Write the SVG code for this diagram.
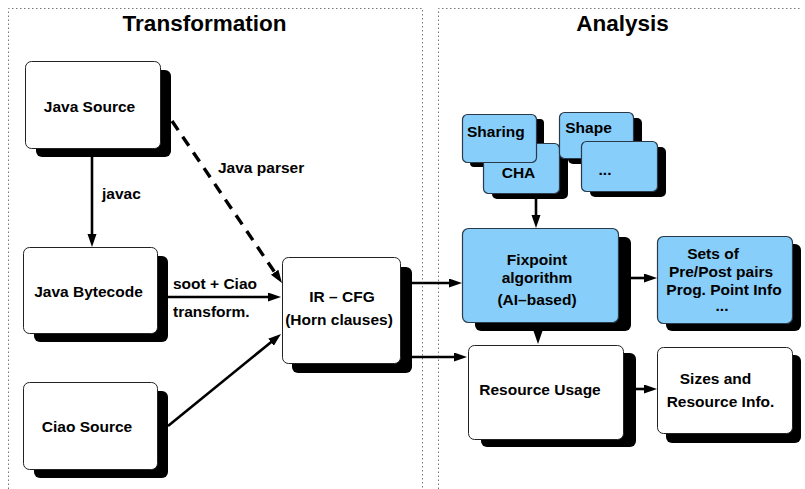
<svg xmlns="http://www.w3.org/2000/svg" width="805" height="489" viewBox="0 0 805 489">
<defs>
<style>
.frame{fill:none;stroke:#777;stroke-width:1;stroke-dasharray:1.5 2.5}
.title{font-family:"Liberation Sans",Arial,sans-serif;font-weight:bold;font-size:22.5px;fill:#000;text-anchor:middle}
.lbl{font-family:"Liberation Sans",Arial,sans-serif;font-weight:bold;font-size:15.5px;fill:#000}
.mid{text-anchor:middle}
.sh{fill:#000}
.wbox{fill:#fff;stroke:#222;stroke-width:1}
.bbox{fill:#87cefa;stroke:#2b3a4a;stroke-width:1.2}
.conn{fill:none;stroke:#000;stroke-width:2.6}
.dash{stroke-dasharray:11 8;stroke-width:3.4}
</style>
<marker id="ah" markerUnits="userSpaceOnUse" markerWidth="14" markerHeight="10" refX="2" refY="4.5" orient="auto">
<path d="M0,0 L13,4.5 L0,9 z" fill="#000"/>
</marker>
</defs>

<g id="frames">
<path class="frame" d="M8.5,489 V8.5 H422.5 V489"/>
<path class="frame" d="M438.5,489 V8.5 H802"/>
<text class="title" x="204.5" y="31">Transformation</text>
<text class="title" x="622.5" y="31">Analysis</text>
</g>

<g id="connectors">
<line class="conn" x1="92" y1="157" x2="92" y2="236" marker-end="url(#ah)"/>
<line class="conn dash" x1="172" y1="121" x2="275.8" y2="273.9" marker-end="url(#ah)"/>
<line class="conn" x1="168" y1="297" x2="270" y2="297" marker-end="url(#ah)"/>
<line class="conn" x1="168" y1="426" x2="272.5" y2="340.9" marker-end="url(#ah)"/>
<line class="conn" x1="412" y1="283" x2="451" y2="283" marker-end="url(#ah)"/>
<line class="conn" x1="412" y1="357" x2="456" y2="357" marker-end="url(#ah)"/>
<line class="conn" x1="536" y1="199" x2="536" y2="217" marker-end="url(#ah)"/>
<line class="conn" x1="631" y1="278" x2="646" y2="278" marker-end="url(#ah)"/>
<line class="conn" x1="538" y1="320" x2="538" y2="333" marker-end="url(#ah)"/>
<line class="conn" x1="636" y1="389" x2="646" y2="389" marker-end="url(#ah)"/>
<text class="lbl" x="102" y="199">javac</text>
<text class="lbl" x="218" y="173">Java parser</text>
<text class="lbl" x="173" y="289">soot + Ciao</text>
<text class="lbl" x="173" y="317">transform.</text>
</g>

<g id="java-source">
<rect class="sh" x="36" y="70" width="135" height="87" rx="6"/>
<rect class="wbox" x="25.5" y="61.5" width="135" height="87" rx="6"/>
<text class="lbl mid" x="89.5" y="112">Java Source</text>
</g>

<g id="java-bytecode">
<rect class="sh" x="34" y="256" width="134" height="86" rx="6"/>
<rect class="wbox" x="23.5" y="247.5" width="134" height="86" rx="6"/>
<text class="lbl mid" x="88.5" y="297">Java Bytecode</text>
</g>

<g id="ciao-source">
<rect class="sh" x="34" y="391" width="134" height="87" rx="6"/>
<rect class="wbox" x="23.5" y="382.5" width="134" height="87" rx="6"/>
<text class="lbl mid" x="87" y="432">Ciao Source</text>
</g>

<g id="ir-cfg">
<rect class="sh" x="292" y="267" width="120" height="106" rx="6"/>
<rect class="wbox" x="282.5" y="257.5" width="118" height="106" rx="6"/>
<text class="lbl mid" x="342" y="302">IR – CFG</text>
<text class="lbl mid" x="339" y="325">(Horn clauses)</text>
</g>

<g id="cha">
<rect class="sh" x="492" y="149" width="76" height="50" rx="5"/>
<rect class="bbox" x="483.5" y="143.5" width="76" height="50" rx="5"/>
<text class="lbl mid" x="518.5" y="178">CHA</text>
</g>

<g id="sharing">
<path class="sh" d="M536,119 h4 a4,4 0 0 1 4,4 v20 h-8 z M470,162 h13 v5 h-9 a4,4 0 0 1 -4,-4 z"/>
<rect class="bbox" x="462.5" y="114.5" width="74" height="48" rx="5"/>
<text class="lbl" x="467" y="137">Sharing</text>
</g>

<g id="shape">
<rect class="sh" x="568" y="118" width="74" height="46" rx="5"/>
<rect class="bbox" x="559.5" y="112.5" width="74" height="46" rx="5"/>
<text class="lbl mid" x="588.5" y="133">Shape</text>
</g>

<g id="more-domains">
<rect class="sh" x="590" y="147" width="76" height="50" rx="5"/>
<rect class="bbox" x="581.5" y="141.5" width="76" height="50" rx="5"/>
<text class="lbl mid" x="605" y="175">...</text>
</g>

<g id="fixpoint">
<rect class="sh" x="475" y="237" width="156" height="94" rx="6"/>
<rect class="bbox" x="462.5" y="228.5" width="156" height="94" rx="6"/>
<text class="lbl mid" x="537" y="265">Fixpoint</text>
<text class="lbl mid" x="537" y="283">algorithm</text>
<text class="lbl mid" x="537" y="305">(AI–based)</text>
</g>

<g id="sets">
<rect class="sh" x="666" y="244" width="135" height="87" rx="6"/>
<rect class="bbox" x="657.5" y="236.5" width="135" height="87" rx="6"/>
<text class="lbl mid" x="713" y="259">Sets of</text>
<text class="lbl mid" x="721" y="277">Pre/Post pairs</text>
<text class="lbl mid" x="724" y="295">Prog. Point Info</text>
<text class="lbl mid" x="722" y="311">...</text>
</g>

<g id="resource-usage">
<rect class="sh" x="481" y="353" width="155" height="94" rx="6"/>
<rect class="wbox" x="468.5" y="345.5" width="155" height="94" rx="6"/>
<text class="lbl mid" x="540" y="395">Resource Usage</text>
</g>

<g id="sizes">
<rect class="sh" x="666" y="355" width="135" height="88" rx="6"/>
<rect class="wbox" x="657.5" y="347.5" width="135" height="86" rx="6"/>
<text class="lbl mid" x="715.5" y="384">Sizes and</text>
<text class="lbl mid" x="720.5" y="407">Resource Info.</text>
</g>
</svg>
